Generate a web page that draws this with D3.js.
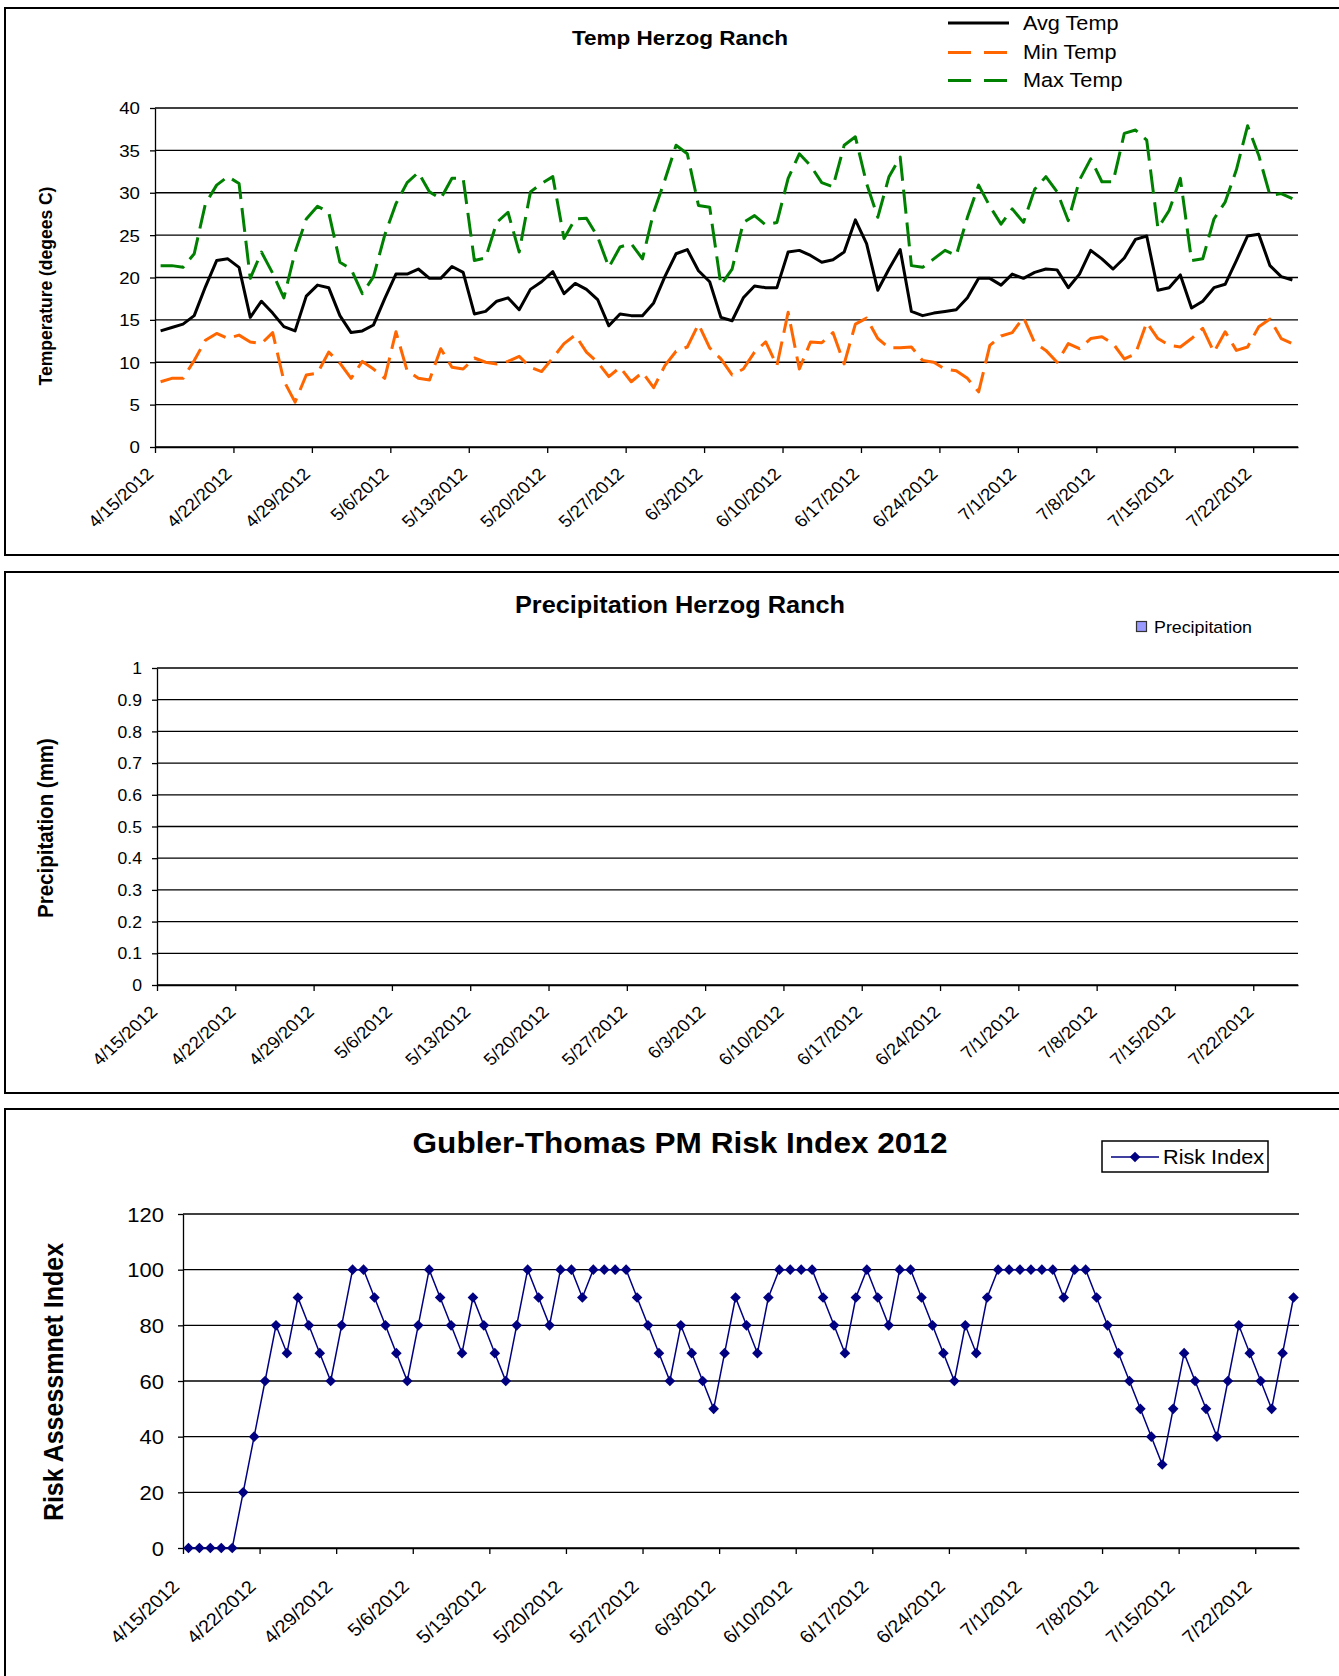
<!DOCTYPE html>
<html>
<head>
<meta charset="utf-8">
<script src="https://cdn.jsdelivr.net/npm/d3@7"></script>
<style>
body { margin: 0; background: #fff; }
svg { display: block; font-family: "Liberation Sans", Arial, sans-serif; }
</style>
</head>
<body>
<svg width="1339" height="1676"></svg>
<script>
// week labels on all three x axes
var weekLabels = ["4/15/2012", "4/22/2012", "4/29/2012", "5/6/2012", "5/13/2012", "5/20/2012", "5/27/2012",
    "6/3/2012", "6/10/2012", "6/17/2012", "6/24/2012", "7/1/2012", "7/8/2012", "7/15/2012", "7/22/2012"];
var firstDay = "4/15/2012", lastDay = "7/26/2012";

var avgTemp = [13.7, 14.1, 14.5, 15.5, 18.9, 22.0, 22.2, 21.2, 15.3, 17.2, 15.8, 14.2, 13.7, 17.8, 19.1, 18.8, 15.5,
    13.5, 13.7, 14.4, 17.5, 20.4, 20.4, 21.0, 19.9, 19.9, 21.3, 20.6, 15.7, 16.0, 17.2, 17.6, 16.2, 18.6, 19.5, 20.7,
    18.1, 19.3, 18.6, 17.4, 14.3, 15.7, 15.5, 15.5, 17.0, 20.1, 22.8, 23.3, 20.8, 19.5, 15.3, 14.9, 17.6, 19.0, 18.8,
    18.8, 23.0, 23.2, 22.6, 21.8, 22.1, 23.0, 26.8, 24.0, 18.5, 21.0, 23.3, 16.0, 15.5, 15.8, 16.0, 16.2, 17.6, 19.9,
    19.9, 19.1, 20.4, 19.9, 20.6, 21.0, 20.9, 18.8, 20.4, 23.2, 22.2, 21.0, 22.3, 24.5, 24.9, 18.5, 18.8, 20.3, 16.4,
    17.2, 18.8, 19.2, 22.0, 24.9, 25.1, 21.4, 20.1, 19.7];
var minTemp = [7.7, 8.1, 8.1, 10.2, 12.6, 13.4, 12.8, 13.2, 12.4, 12.2, 13.5, 7.8, 5.3, 8.5, 8.7, 11.2, 9.9, 8.1,
    10.1, 9.2, 8.1, 13.6, 9.0, 8.1, 7.9, 11.6, 9.4, 9.2, 10.5, 10.0, 9.8, 10.1, 10.7, 9.4, 8.9, 10.5, 12.2, 13.2, 11.2,
    10.0, 8.3, 9.4, 7.7, 8.8, 7.0, 9.6, 11.3, 11.8, 14.5, 11.7, 10.4, 8.5, 9.2, 11.2, 12.4, 9.6, 15.9, 9.2, 12.4, 12.3,
    13.5, 9.8, 14.5, 15.2, 12.8, 11.7, 11.7, 11.8, 10.2, 10.0, 9.2, 9.0, 8.1, 6.5, 12.0, 13.1, 13.5, 15.3, 12.3, 11.4,
    10.0, 12.2, 11.6, 12.8, 13.0, 12.2, 10.4, 11.0, 14.7, 12.8, 12.0, 11.8, 12.8, 14.0, 11.2, 13.6, 11.4, 11.8, 14.2,
    15.1, 12.8, 12.2];
var maxTemp = [21.4, 21.4, 21.2, 22.8, 28.7, 30.9, 31.9, 31.1, 19.9, 23.0, 20.5, 17.6, 23.0, 26.9, 28.4, 27.7, 21.8,
    21.0, 18.1, 20.1, 25.0, 28.7, 31.2, 32.4, 30.1, 29.3, 31.7, 31.7, 22.0, 22.3, 26.5, 27.7, 23.0, 30.1, 31.1, 31.9,
    24.6, 26.9, 27.0, 24.8, 21.2, 23.6, 24.0, 22.2, 27.7, 31.5, 35.6, 34.6, 28.5, 28.3, 19.1, 21.0, 26.5, 27.3, 26.2,
    26.5, 31.7, 34.6, 33.2, 31.2, 30.7, 35.6, 36.6, 31.1, 27.1, 31.9, 34.2, 21.4, 21.2, 22.2, 23.2, 22.6, 27.1, 30.9,
    28.4, 26.3, 28.1, 26.5, 30.4, 31.9, 30.1, 26.7, 31.5, 34.0, 31.3, 31.3, 37.0, 37.4, 36.2, 25.8, 27.9, 31.7, 22.0,
    22.2, 26.9, 28.9, 32.7, 37.9, 34.4, 29.7, 29.9, 29.3];
// no rain recorded over the period
var precipitation = [];
var riskIndex = [0, 0, 0, 0, 0, 20, 40, 60, 80, 70, 90, 80, 70, 60, 80, 100, 100, 90, 80, 70, 60, 80, 100, 90, 80,
    70, 90, 80, 70, 60, 80, 100, 90, 80, 100, 100, 90, 100, 100, 100, 100, 90, 80, 70, 60, 80, 70, 60, 50, 70, 90, 80,
    70, 90, 100, 100, 100, 100, 90, 80, 70, 90, 100, 90, 80, 100, 100, 90, 80, 70, 60, 80, 70, 90, 100, 100, 100, 100,
    100, 100, 90, 100, 100, 90, 80, 70, 60, 50, 40, 30, 50, 70, 60, 50, 40, 60, 80, 70, 60, 50, 70, 90];

var tempTicks = [0, 5, 10, 15, 20, 25, 30, 35, 40];
var precipTicks = [0, 0.1, 0.2, 0.3, 0.4, 0.5, 0.6, 0.7, 0.8, 0.9, 1];
var precipTickLabels = ["0", "0.1", "0.2", "0.3", "0.4", "0.5", "0.6", "0.7", "0.8", "0.9", "1"];
var riskTicks = [0, 20, 40, 60, 80, 100, 120];

var SX = 1.1; // the original picture is a little wider than tall
var svg = d3.select("svg");
var parseDate = d3.timeParse("%m/%d/%Y");
var days = d3.timeDay.range(parseDate(firstDay), parseDate(lastDay));
var weekDates = weekLabels.map(parseDate);

function stretch(x, y, rot) {
    return "translate(" + x + "," + y + ") scale(" + SX + ",1)" + (rot ? " rotate(" + rot + ")" : "");
}

function midDay(x, i) {
    return x(d3.timeHour.offset(days[i], 12));
}

function frame(top, bottom) {
    svg.append("rect")
        .attr("x", 5).attr("y", top)
        .attr("width", 1350).attr("height", bottom - top)
        .attr("fill", "none").attr("stroke", "#000").attr("stroke-width", 2);
}

function title(txt, x, y, size) {
    svg.append("text")
        .attr("transform", stretch(x, y))
        .attr("text-anchor", "middle").attr("dy", "0.35em")
        .style("font-size", size + "px").style("font-weight", "bold")
        .text(txt);
}

function axisTitle(txt, x, y, size) {
    svg.append("text")
        .attr("transform", stretch(x, y, -90))
        .attr("text-anchor", "middle").attr("dy", "0.35em")
        .style("font-size", size + "px").style("font-weight", "bold")
        .text(txt);
}

function axes(x, y, ticks, labels, o) {
    var g = svg.append("g");
    g.selectAll(".grid").data(ticks).enter().append("line")
        .attr("x1", o.left).attr("x2", o.right)
        .attr("y1", function (d) { return y(d); })
        .attr("y2", function (d) { return y(d); })
        .attr("stroke", "#000").attr("stroke-width", 1.3);

    var ya = g.append("g").attr("transform", "translate(" + o.left + ",0)")
        .call(d3.axisLeft(y).tickValues(ticks).tickSize(5).tickSizeOuter(0)
            .tickFormat(function (d, i) { return labels[i]; }));
    ya.selectAll("line, path").attr("stroke", "#000").attr("stroke-width", 1.3);
    ya.selectAll("text")
        .attr("x", 0).attr("dy", "0.35em").attr("fill", "#000")
        .attr("transform", stretch(-o.gap, 0))
        .style("font-size", o.ySize + "px").style("font-family", "inherit");

    var xa = g.append("g").attr("transform", "translate(0," + o.bottom + ")")
        .call(d3.axisBottom(x).tickValues(weekDates).tickSize(6).tickSizeOuter(0)
            .tickFormat(function (d, i) { return weekLabels[i]; }));
    xa.selectAll("line, path").attr("stroke", "#000").attr("stroke-width", 1.3);
    xa.selectAll("text")
        .attr("x", 0).attr("y", 0).attr("dy", 0).attr("fill", "#000")
        .attr("text-anchor", "end")
        .attr("transform", stretch(o.lx, o.ly, -45))
        .style("font-size", o.xSize + "px").style("font-family", "inherit");
}

// ---------- Temp Herzog Ranch ----------
function tempChart() {
    var o = {left: 155, right: 1298, top: 108, bottom: 447, gap: 15, ySize: 17, xSize: 17, lx: -1, ly: 28};
    frame(8, 555);
    var x = d3.scaleTime().domain([parseDate(firstDay), parseDate(lastDay)]).range([o.left, o.right]);
    var y = d3.scaleLinear().domain([0, 40]).range([o.bottom, o.top]);
    axes(x, y, tempTicks, tempTicks, o);

    title("Temp Herzog Ranch", 680, 38, 20.5);
    axisTitle("Temperature (degees C)", 45, 286, 17.5);

    var series = [
        {name: "Avg Temp", values: avgTemp, color: "#000000", dash: null},
        {name: "Min Temp", values: minTemp, color: "#ff6600", dash: "24,9"},
        {name: "Max Temp", values: maxTemp, color: "#008000", dash: "24,9"}
    ];
    var line = d3.line()
        .x(function (d, i) { return midDay(x, i); })
        .y(function (d) { return y(d); });

    svg.selectAll(".temp").data(series).enter().append("path")
        .attr("class", "temp")
        .attr("d", function (d) { return line(d.values); })
        .attr("fill", "none")
        .attr("stroke", function (d) { return d.color; })
        .attr("stroke-width", 3)
        .attr("stroke-linejoin", "round")
        .attr("stroke-dasharray", function (d) { return d.dash; });

    var legend = svg.selectAll(".tleg").data(series).enter().append("g")
        .attr("class", "tleg")
        .attr("transform", function (d, i) { return "translate(948," + [23, 52.5, 80.5][i] + ")"; });
    legend.append("line")
        .attr("x1", 0).attr("x2", 61)
        .attr("stroke", function (d) { return d.color; })
        .attr("stroke-width", 3)
        .attr("stroke-dasharray", function (d) { return d.dash ? "23,13" : null; });
    legend.append("text")
        .attr("transform", stretch(75, 0)).attr("dy", "0.35em")
        .style("font-size", "19.7px")
        .text(function (d) { return d.name; });
}

// ---------- Precipitation Herzog Ranch ----------
function precipChart() {
    var o = {left: 157, right: 1298, top: 668, bottom: 985, gap: 15, ySize: 16, xSize: 17, lx: 1, ly: 28};
    frame(572, 1093);
    var x = d3.scaleTime().domain([parseDate(firstDay), parseDate(lastDay)]).range([o.left, o.right]);
    var y = d3.scaleLinear().domain([0, 1]).range([o.bottom, o.top]);
    axes(x, y, precipTicks, precipTickLabels, o);

    svg.selectAll(".bar").data(precipitation).enter().append("rect")
        .attr("class", "bar")
        .attr("x", function (d, i) { return x(days[i]) + 2; })
        .attr("width", 7)
        .attr("y", function (d) { return y(d); })
        .attr("height", function (d) { return o.bottom - y(d); })
        .attr("fill", "#9999ff").attr("stroke", "#333");

    title("Precipitation Herzog Ranch", 680, 605, 23);
    axisTitle("Precipitation (mm)", 45, 828, 20.5);

    svg.append("rect")
        .attr("x", 1136.5).attr("y", 621.5).attr("width", 10).attr("height", 10)
        .attr("fill", "#9999ff").attr("stroke", "#333").attr("stroke-width", 1.2);
    svg.append("text")
        .attr("transform", stretch(1154, 627)).attr("dy", "0.35em")
        .style("font-size", "16.2px")
        .text("Precipitation");
}

// ---------- Gubler-Thomas PM Risk Index ----------
function riskChart() {
    var o = {left: 183, right: 1299, top: 1214, bottom: 1548, gap: 19, ySize: 20, xSize: 18, lx: -3, ly: 40};
    frame(1109, 1700);
    var x = d3.scaleTime().domain([parseDate(firstDay), parseDate(lastDay)]).range([o.left, o.right]);
    var y = d3.scaleLinear().domain([0, 120]).range([o.bottom, o.top]);
    axes(x, y, riskTicks, riskTicks, o);

    title("Gubler-Thomas PM Risk Index 2012", 680, 1143, 28.7);
    axisTitle("Risk Assessmnet Index", 53, 1382, 25);

    var line = d3.line()
        .x(function (d, i) { return midDay(x, i); })
        .y(function (d) { return y(d); });
    svg.append("path")
        .attr("d", line(riskIndex))
        .attr("fill", "none").attr("stroke", "#000080").attr("stroke-width", 1.5);

    var diamond = d3.symbol().type(d3.symbolDiamond2).size(72);
    svg.selectAll(".risk").data(riskIndex).enter().append("path")
        .attr("class", "risk")
        .attr("d", diamond)
        .attr("transform", function (d, i) { return "translate(" + midDay(x, i) + "," + y(d) + ")"; })
        .attr("fill", "#000080");

    svg.append("rect")
        .attr("x", 1102).attr("y", 1141).attr("width", 166).attr("height", 31)
        .attr("fill", "#fff").attr("stroke", "#000").attr("stroke-width", 1.5);
    svg.append("line")
        .attr("x1", 1111).attr("x2", 1159).attr("y1", 1157).attr("y2", 1157)
        .attr("stroke", "#000080").attr("stroke-width", 1.5);
    svg.append("path")
        .attr("d", diamond).attr("transform", "translate(1135,1157)").attr("fill", "#000080");
    svg.append("text")
        .attr("transform", stretch(1163, 1157)).attr("dy", "0.35em")
        .style("font-size", "19.7px")
        .text("Risk Index");
}

tempChart();
precipChart();
riskChart();
</script>
</body>
</html>
